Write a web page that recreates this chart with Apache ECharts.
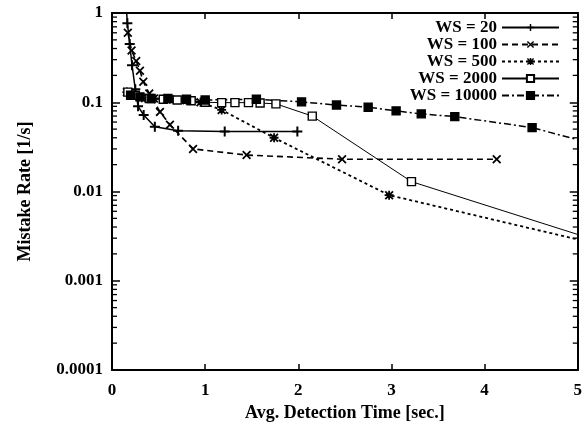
<!DOCTYPE html>
<html><head><meta charset="utf-8">
<script src="https://cdn.jsdelivr.net/npm/echarts@6/dist/echarts.min.js"></script>
<style>html,body{margin:0;padding:0;background:#fff}#c{width:585px;height:429px}</style>
</head><body><div id="c"></div><script>
// ---- data ----
const seriesNames = ['WS = 20', 'WS = 100', 'WS = 500', 'WS = 2000', 'WS = 10000'];

const ws20X = [0.15, 0.165, 0.19, 0.215, 0.25, 0.28, 0.34, 0.46, 0.71, 1.21, 1.99];
const ws20Y = [1.3, 0.77, 0.45, 0.26, 0.14, 0.09, 0.072, 0.053, 0.048, 0.047, 0.047];

const ws100X = [0.17, 0.21, 0.26, 0.30, 0.336, 0.40, 0.515, 0.622, 0.87, 1.445, 2.47, 4.13];
const ws100Y = [0.6, 0.38, 0.29, 0.226, 0.17, 0.125, 0.078, 0.056, 0.030, 0.0256, 0.023, 0.023];

const ws500X = [0.16, 0.22, 0.32, 0.45, 0.62, 0.8, 0.95, 1.177, 1.74, 2.975, 5.0];
const ws500Y = [0.13, 0.12, 0.112, 0.11, 0.108, 0.105, 0.1, 0.082, 0.040, 0.0091, 0.0029];

const ws2000X = [0.17, 0.25, 0.4, 0.55, 0.7, 0.85, 1.0, 1.177, 1.32, 1.465, 1.59, 1.76, 2.15, 3.215, 5.0];
const ws2000Y = [0.13, 0.12, 0.11, 0.108, 0.106, 0.104, 0.10, 0.099, 0.099, 0.099, 0.098, 0.096, 0.070, 0.0129, 0.0033];

const ws10000X = [0.2, 0.3, 0.42, 0.6, 0.8, 1.0, 1.55, 2.035, 2.41, 2.75, 3.05, 3.32, 3.68, 4.51, 5.0];
const ws10000Y = [0.12, 0.115, 0.11, 0.11, 0.108, 0.106, 0.108, 0.101, 0.093, 0.088, 0.080, 0.074, 0.069, 0.052, 0.038];

const yTickLabels = ['0.0001', '0.001', '0.01', '0.1', '1'];
const xTickLabels = ['0', '1', '2', '3', '4', '5'];
const xMin = 0, xMax = 5, yMin = 0.0001, yMax = 1;

// ---- styling ----
const FONT = 'Liberation Serif';
const PLUS = 'path://M4,0H6V4H10V6H6V10H4V6H0V4H4Z';
const CROSS = 'path://M0,1.4L1.4,0L5,3.6L8.6,0L10,1.4L6.4,5L10,8.6L8.6,10L5,6.4L1.4,10L0,8.6L3.6,5Z';
const STAR = 'path://M4,0H6V4H10V6H6V10H4V6H0V4H4Z M0,1.4L1.4,0L5,3.6L8.6,0L10,1.4L6.4,5L10,8.6L8.6,10L5,6.4L1.4,10L0,8.6L3.6,5Z';

const defs = [
  {name: seriesNames[0], xs: ws20X, ys: ws20Y, symbol: PLUS, size: 10, type: 'solid', width: 1.5, fill: '#000', edge: false},
  {name: seriesNames[1], xs: ws100X, ys: ws100Y, symbol: CROSS, size: 9, type: [6, 4], width: 1.6, fill: '#000', edge: false},
  {name: seriesNames[2], xs: ws500X, ys: ws500Y, symbol: STAR, size: 9, type: [3, 3], width: 1.8, fill: '#000', edge: true},
  {name: seriesNames[3], xs: ws2000X, ys: ws2000Y, symbol: 'rect', size: 8, type: 'solid', width: 1, fill: '#fff', edge: true},
  {name: seriesNames[4], xs: ws10000X, ys: ws10000Y, symbol: 'rect', size: 8, type: [7, 3, 2, 3], width: 1.5, fill: '#000', edge: true}
];

const series = defs.map(d => ({
  name: d.name,
  type: 'line',
  xAxisIndex: 0, yAxisIndex: 0,
  symbol: d.symbol,
  symbolSize: d.size,
  showAllSymbol: true,
  clip: true,
  animation: false,
  lineStyle: {color: '#000', width: d.width, type: d.type},
  itemStyle: {color: d.fill, borderColor: '#000', borderWidth: d.symbol === 'rect' ? 1.4 : 0, opacity: 1},
  emphasis: {disabled: true},
  data: d.xs.map((x, i) => {
    const item = {value: [x, d.ys[i]]};
    if (d.edge && i === d.xs.length - 1) item.symbol = 'none';
    return item;
  })
}));

// minor log ticks (2..9 x 10^n) drawn through the y scale
const minorVals = [];
for (let e = -4; e < 0; e++) for (let k = 2; k <= 9; k++) minorVals.push([0, k * Math.pow(10, e)]);
series.push({
  type: 'custom',
  silent: true,
  clip: false,
  animation: false,
  xAxisIndex: 0, yAxisIndex: 0,
  data: minorVals,
  renderItem: function (params, api) {
    const v = api.value(1);
    const l = api.coord([xMin, v]);
    const r = api.coord([xMax, v]);
    return {type: 'group', children: [
      {type: 'line', shape: {x1: l[0], y1: l[1], x2: l[0] + 5, y2: l[1]}, style: {stroke: '#000', lineWidth: 1.3}},
      {type: 'line', shape: {x1: r[0], y1: r[1], x2: r[0] - 5, y2: r[1]}, style: {stroke: '#000', lineWidth: 1.3}}
    ]};
  }
});

const axisLine = {show: true, onZero: false, lineStyle: {color: '#000', width: 2}};
const labelStyle = {color: '#000', fontFamily: FONT, fontWeight: 'bold', fontSize: 17};

const option = {
  backgroundColor: '#fff',
  animation: false,
  grid: {left: 112, right: 7, top: 13, bottom: 59, containLabel: false},
  legend: {
    data: seriesNames,
    orient: 'vertical',
    right: 20, top: 14,
    align: 'right',
    itemWidth: 57, itemHeight: 9, itemGap: 0,
    selectedMode: false,
    textStyle: {color: '#000', fontFamily: FONT, fontWeight: 'bold', fontSize: 17}
  },
  xAxis: [{
    type: 'value', min: xMin, max: xMax, interval: 1, position: 'bottom',
    axisLine: axisLine,
    axisTick: {show: true, inside: true, length: 6, lineStyle: {color: '#000', width: 1.5}},
    splitLine: {show: false},
    axisLabel: Object.assign({margin: 12, formatter: v => xTickLabels[Math.round(v)]}, labelStyle),
    name: 'Avg. Detection Time [sec.]', nameLocation: 'middle', nameGap: 33,
    nameTextStyle: {color: '#000', fontFamily: FONT, fontWeight: 'bold', fontSize: 18}
  }, {
    type: 'value', min: xMin, max: xMax, interval: 1, position: 'top',
    axisLine: axisLine,
    axisTick: {show: true, inside: true, length: 6, lineStyle: {color: '#000', width: 1.5}},
    splitLine: {show: false}, axisLabel: {show: false}
  }],
  yAxis: [{
    type: 'log', logBase: 10, min: yMin, max: yMax, position: 'left',
    axisLine: axisLine,
    axisTick: {show: true, inside: true, length: 8, lineStyle: {color: '#000', width: 1.5}},
    minorTick: {show: false},
    splitLine: {show: false},
    axisLabel: Object.assign({margin: 9, formatter: v => yTickLabels[Math.round(Math.log10(v)) + 4]}, labelStyle),
    name: 'Mistake Rate [1/s]', nameLocation: 'middle', nameGap: 78, nameRotate: 90,
    nameTextStyle: {color: '#000', fontFamily: FONT, fontWeight: 'bold', fontSize: 18}
  }, {
    type: 'log', logBase: 10, min: yMin, max: yMax, position: 'right',
    axisLine: axisLine,
    axisTick: {show: true, inside: true, length: 8, lineStyle: {color: '#000', width: 1.5}},
    splitLine: {show: false}, axisLabel: {show: false}
  }],
  series: series
};

const chart = echarts.init(document.getElementById('c'), null, {renderer: 'canvas'});
chart.setOption(option);
</script></body></html>
